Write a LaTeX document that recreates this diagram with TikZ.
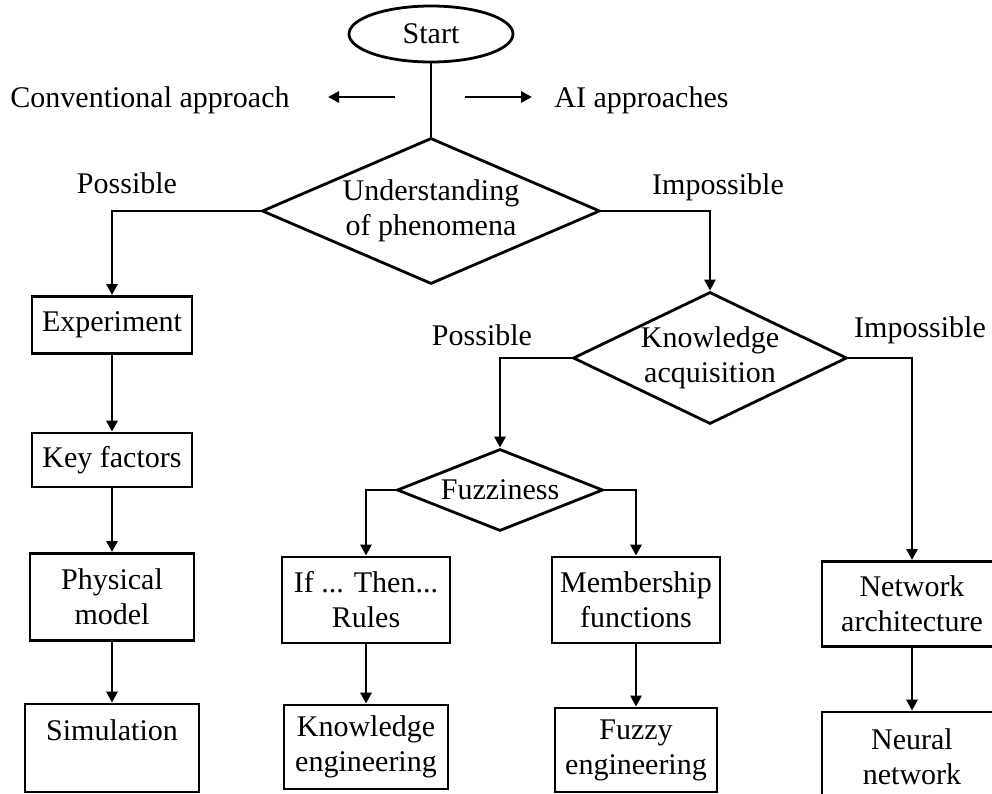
\documentclass[tikz,border=0pt]{standalone}
\usepackage{fontspec}
\setmainfont{Liberation Serif}
\usetikzlibrary{shapes.geometric,arrows.meta}
\begin{document}
\begin{tikzpicture}[x=1pt,y=-1pt,
  line width=2.8pt,
  every node/.style={font=\fontsize{30}{35}\selectfont, align=center},
  box/.style={draw, rectangle, inner sep=0pt},
  dec/.style={draw, diamond, inner sep=0pt},
  arr/.style={-{Triangle[length=11pt,width=11pt]}},
  lbl/.style={inner sep=0pt}
]
\useasboundingbox (0,0) rectangle (992,794);

% start and the two approach directions
\node[draw, ellipse, minimum width=164pt, minimum height=56pt, inner sep=0pt] (start) at (431,34) {Start};
\node[lbl] (conv) at (150,100) {Conventional approach};
\node[lbl, anchor=west] (ai) at (553,100) {AI approaches};
\coordinate (la1) at (395,97); \coordinate (la2) at (328,97);
\coordinate (ra1) at (465,97); \coordinate (ra2) at (532,97);

% first decision
\node[dec, aspect=2.3, minimum width=338pt, minimum height=146pt] (d1) at (431,211) {Understanding\\of phenomena};
\node[lbl] (pos1) at (127,183) {Possible};
\node[lbl] (imp1) at (718,187) {Impossible};

% conventional branch
\node[box, minimum width=160pt, minimum height=57pt] (exp) at (112,325) {Experiment};
\node[box, minimum width=160pt, minimum height=54pt] (key) at (112,460) {Key factors};
\node[box, minimum width=164pt, minimum height=87pt] (phys) at (112,597) {Physical\\model};
\node[box, minimum width=174pt, minimum height=88pt] (sim) at (112,748) {Simulation\\\mbox{}};

% AI branch
\node[dec, aspect=2.1, minimum width=274pt, minimum height=132pt] (d2) at (710,358) {Knowledge\\acquisition};
\node[lbl] (pos2) at (482,335) {Possible};
\node[lbl] (imp2) at (920,330) {Impossible};
\node[dec, aspect=2.5, minimum width=206pt, minimum height=82pt] (d3) at (500,490) {Fuzziness};
\node[box, minimum width=168pt, minimum height=86pt] (ifr) at (366,600) {If ... Then...\\Rules};
\node[box, minimum width=168pt, minimum height=86pt] (mem) at (636,600) {Membership\\functions};
\node[box, minimum width=164pt, minimum height=84pt] (ke) at (366,747) {Knowledge\\engineering};
\node[box, minimum width=162pt, minimum height=84pt] (fe) at (636,750) {Fuzzy\\engineering};
\node[box, minimum width=180pt, minimum height=85pt] (net) at (912,604) {Network\\architecture};
\node[box, minimum width=180pt, minimum height=90pt] (nn) at (912,757) {Neural\\network};

% connectors
\draw (start) -- (d1);
\draw[arr] (la1) -- (la2);
\draw[arr] (ra1) -- (ra2);
\draw[arr] (d1.west) -| (exp.north);
\draw[arr] (d1.east) -| (d2.north);
\draw[arr] (exp) -- (key);
\draw[arr] (key) -- (phys);
\draw[arr] (phys) -- (sim);
\draw[arr] (d2.west) -| (d3.north);
\draw[arr] (d2.east) -| (net.north);
\draw[arr] (d3.west) -| (ifr.north);
\draw[arr] (d3.east) -| (mem.north);
\draw[arr] (ifr) -- (ke);
\draw[arr] (mem) -- (fe);
\draw[arr] (net) -- (nn);
\end{tikzpicture}
\end{document}
